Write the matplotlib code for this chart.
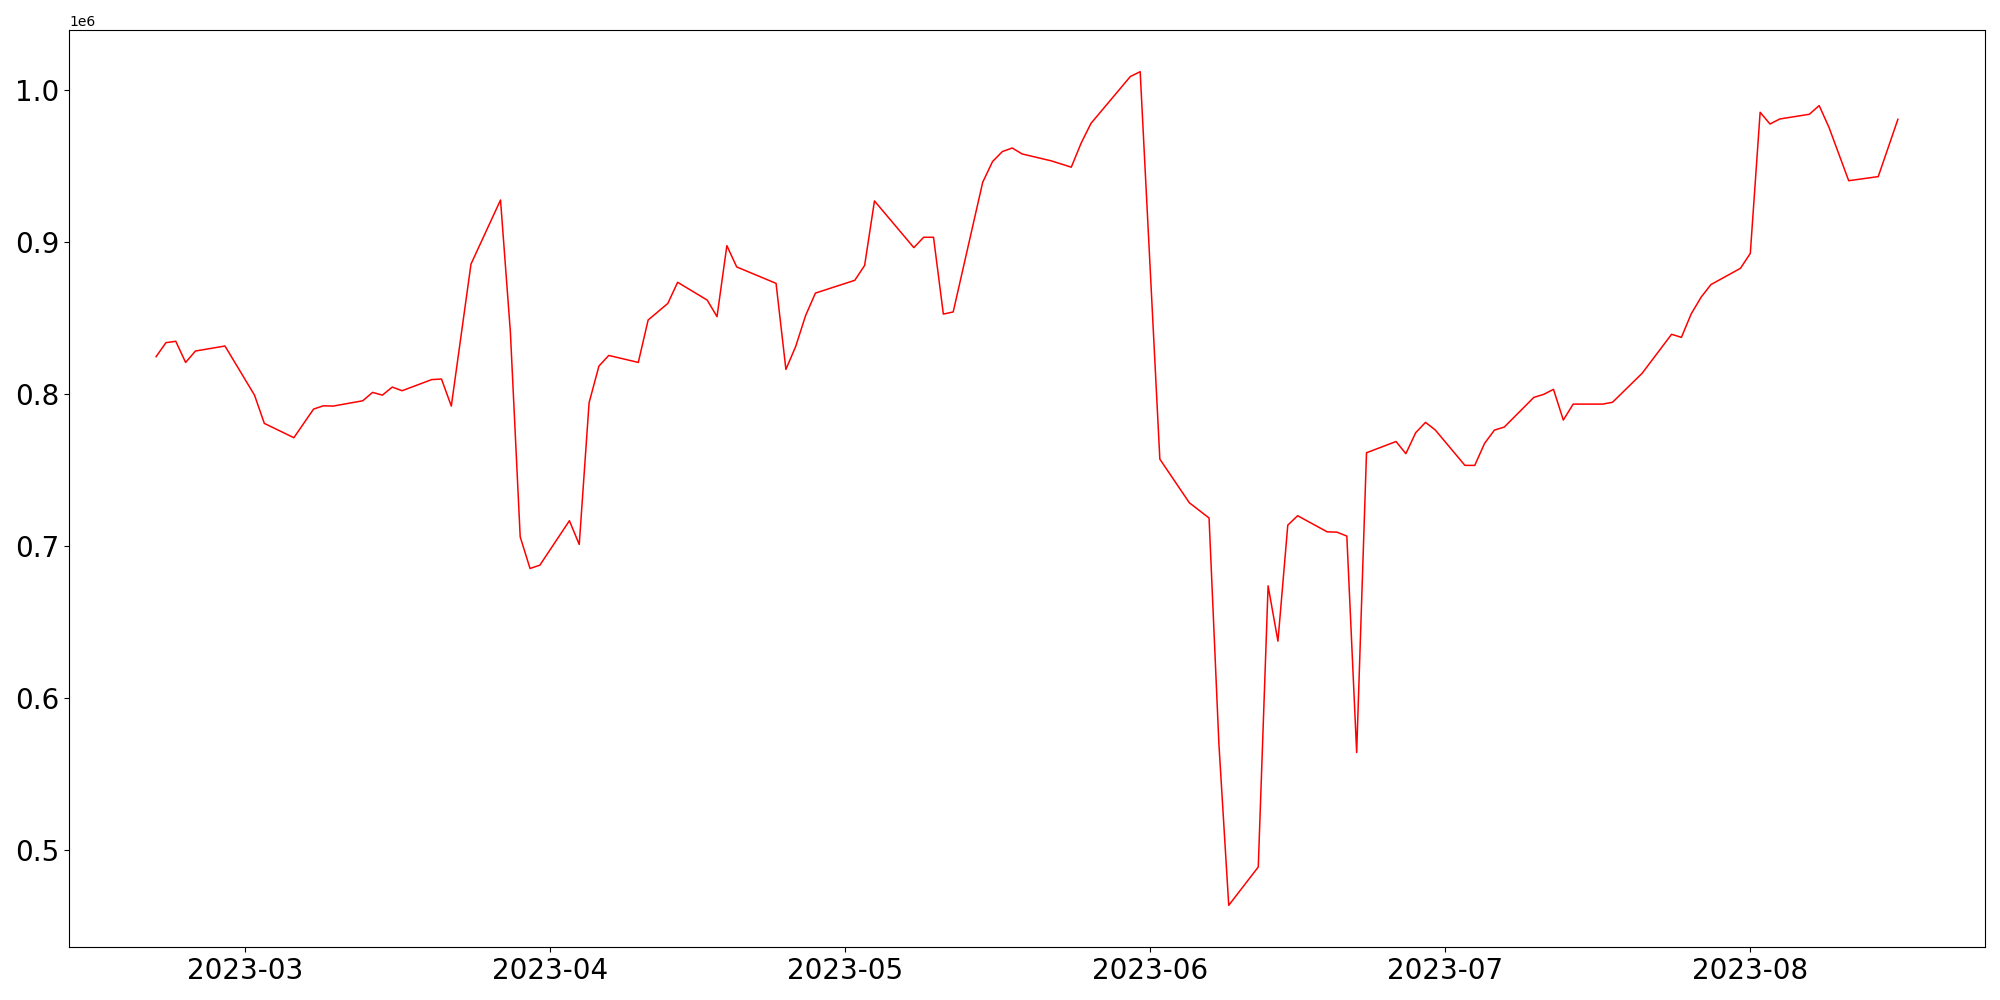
import numpy as np
import matplotlib
matplotlib.use('Agg')
import matplotlib.pyplot as plt
import pandas as pd

# dates of the visible vertices of the series
dates = ['2023-02-20', '2023-02-21', '2023-02-22', '2023-02-23', '2023-02-24',
         '2023-02-27', '2023-03-02', '2023-03-03', '2023-03-06', '2023-03-08',
         '2023-03-09', '2023-03-10', '2023-03-13', '2023-03-14', '2023-03-15',
         '2023-03-16', '2023-03-17', '2023-03-20', '2023-03-21', '2023-03-22',
         '2023-03-24', '2023-03-27', '2023-03-28', '2023-03-29', '2023-03-30',
         '2023-03-31', '2023-04-03', '2023-04-04', '2023-04-05', '2023-04-06',
         '2023-04-07', '2023-04-10', '2023-04-11', '2023-04-13', '2023-04-14',
         '2023-04-17', '2023-04-18', '2023-04-19', '2023-04-20', '2023-04-24',
         '2023-04-25', '2023-04-26', '2023-04-27', '2023-04-28', '2023-05-02',
         '2023-05-03', '2023-05-04', '2023-05-08', '2023-05-09', '2023-05-10',
         '2023-05-11', '2023-05-12', '2023-05-15', '2023-05-16', '2023-05-17',
         '2023-05-18', '2023-05-19', '2023-05-22', '2023-05-24', '2023-05-25',
         '2023-05-26', '2023-05-30', '2023-05-31', '2023-06-02', '2023-06-05',
         '2023-06-07', '2023-06-08', '2023-06-09', '2023-06-12', '2023-06-13',
         '2023-06-14', '2023-06-15', '2023-06-16', '2023-06-19', '2023-06-20',
         '2023-06-21', '2023-06-22', '2023-06-23', '2023-06-26', '2023-06-27',
         '2023-06-28', '2023-06-29', '2023-06-30', '2023-07-03', '2023-07-04',
         '2023-07-05', '2023-07-06', '2023-07-07', '2023-07-10', '2023-07-11',
         '2023-07-12', '2023-07-13', '2023-07-14', '2023-07-17', '2023-07-18',
         '2023-07-21', '2023-07-24', '2023-07-25', '2023-07-26', '2023-07-27',
         '2023-07-28', '2023-07-31', '2023-08-01', '2023-08-02', '2023-08-03',
         '2023-08-04', '2023-08-07', '2023-08-08', '2023-08-09', '2023-08-11',
         '2023-08-14', '2023-08-16']

# values in millions
values = [0.8246, 0.8338, 0.8347, 0.8208, 0.8283,
          0.8316, 0.7993, 0.7807, 0.7713, 0.7901,
          0.7923, 0.7921, 0.7956, 0.8011, 0.7993,
          0.8046, 0.8022, 0.8095, 0.8099, 0.7921,
          0.8855, 0.9276, 0.8410, 0.7061, 0.6853,
          0.6875, 0.7167, 0.7011, 0.7943, 0.8184,
          0.8254, 0.8208, 0.8487, 0.8596, 0.8735,
          0.8618, 0.8509, 0.8976, 0.8836, 0.8728,
          0.8162, 0.8314, 0.8516, 0.8664, 0.8748,
          0.8846, 0.9270, 0.8963, 0.9031, 0.9031,
          0.8526, 0.8540, 0.9393, 0.9529, 0.9595,
          0.9618, 0.9579, 0.9533, 0.9492, 0.9650,
          0.9780, 1.0088, 1.0120, 0.7572, 0.7285,
          0.7185, 0.5700, 0.4638, 0.4890, 0.6739,
          0.6375, 0.7138, 0.7200, 0.7094, 0.7092,
          0.7066, 0.5643, 0.7614, 0.7688, 0.7608,
          0.7746, 0.7814, 0.7763, 0.7531, 0.7531,
          0.7676, 0.7763, 0.7783, 0.7978, 0.7998,
          0.8031, 0.7829, 0.7934, 0.7934, 0.7946,
          0.8136, 0.8393, 0.8373, 0.8528, 0.8637,
          0.8720, 0.8827, 0.8925, 0.9853, 0.9776,
          0.9809, 0.9840, 0.9897, 0.9753, 0.9403,
          0.9430, 0.9807]

x = pd.to_datetime(dates)
y = np.array(values) * 1e6

fig, ax = plt.subplots(figsize=(20, 10), dpi=100)
ax.plot(x, y, color='red', lw=1.1)
plt.xticks(fontsize=20)
plt.yticks(fontsize=20)
plt.subplots_adjust(left=0.0345, right=0.9925, top=0.970, bottom=0.053)
plt.savefig('out.png')
